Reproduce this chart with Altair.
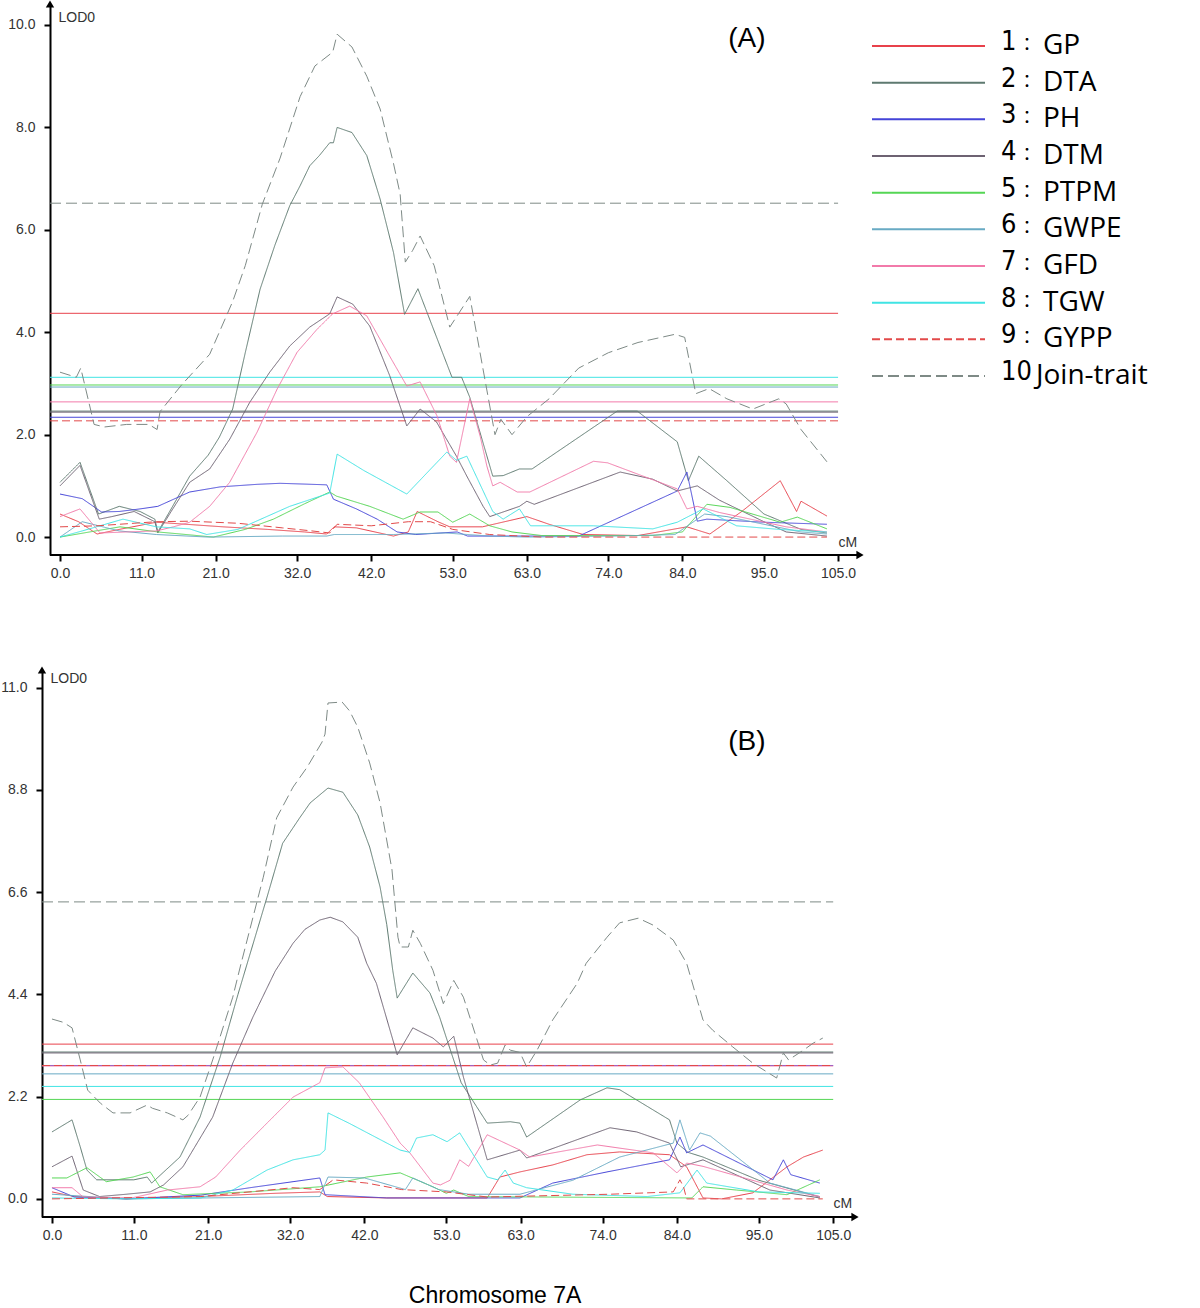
import altair as alt
import pandas as pd

TRAITS = ["GP", "DTA", "PH", "DTM", "PTPM", "GWPE", "GFD", "TGW", "GYPP", "Join-trait"]
COLORS = ["#e8414b", "#5e7a70", "#4444d8", "#6d6272", "#55d655", "#68aac4", "#f27aaa", "#40e4e4", "#e24a4a", "#7e8a86"]
DASHES = [[1, 0]] * 8 + [[8, 4], [11, 5]]
LEG_NUM = ["1", "2", "3", "4", "5", "6", "7", "8", "9", "10"]
LEG_SEP = ["："] * 9 + [""]
X_TICKS = [0, 11, 21, 32, 42, 53, 63, 74, 84, 95, 105]
Y_TICKS_A = [0.0, 2.0, 4.0, 6.0, 8.0, 10.0]
Y_TICKS_B = [0.0, 2.2, 4.4, 6.6, 8.8, 11.0]

# ---------------- Panel A curves (cM, LOD) ----------------
A_GP = [(0, 0.45), (2.5, 0.3), (5, 0.06), (8, 0.15), (13, 0.29), (17, 0.25), (22, 0.2), (28, 0.15), (33, 0.1),
        (36, 0.06), (37, 0.2), (40, 0.18), (45, 0.02), (47, 0.1), (48.2, 0.5), (51, 0.3), (52.6, 0.2), (57, 0.2),
        (63, 0.4), (66, 0.25), (70.6, 0.05), (78, 0.03), (84.6, 0.2), (87.7, 0.06), (92, 0.5), (97.2, 1.1),
        (99.4, 0.5), (100, 0.7), (103.5, 0.41)]
A_DTA = [(0, 1.07), (2.7, 1.46), (5.2, 0.45), (8, 0.6), (10.8, 0.5), (12.8, 0.35), (13.2, 0.1), (15, 0.55),
         (17.5, 1.19), (20, 1.6), (21.5, 1.95), (23.3, 2.5), (25, 3.6), (27, 4.84), (29, 5.7), (31, 6.47),
         (32.4, 6.86), (33.7, 7.25), (35, 7.45), (36.4, 7.7), (36.9, 7.7), (37.4, 8.0), (39.4, 7.9), (41.4, 7.45),
         (43.2, 6.6), (45, 5.56), (46.5, 4.35), (48.3, 4.85), (52.9, 3.12), (54.2, 3.12), (55.3, 2.73),
         (58.4, 1.19), (59.8, 1.2), (62, 1.33), (63.7, 1.33), (75.2, 2.46), (77.9, 2.46), (83.3, 1.86),
         (84.8, 1.1), (86.2, 1.58), (90, 1.1), (95, 0.45), (100, 0.15), (103.5, 0.08)]
A_PH = [(0, 0.84), (3, 0.75), (5.6, 0.49), (8, 0.5), (10.8, 0.55), (13.2, 0.6), (17.5, 0.88), (21.6, 0.98),
        (26.6, 1.03), (29.7, 1.05), (34, 1.03), (36, 1.02), (36.9, 0.74), (40, 0.55), (42.8, 0.35), (45.5, 0.1),
        (48, 0.05), (53.6, 0.1), (55, 0.02), (70, 0.02), (83.3, 0.9), (84.6, 1.27), (86, 0.31), (87.3, 0.35),
        (95, 0.29), (103.5, 0.25)]
A_DTM = [(0, 1.0), (2.7, 1.4), (5.3, 0.35), (7, 0.4), (10, 0.5), (12.8, 0.3), (13.2, 0.08), (15, 0.5),
         (17.5, 1.07), (20.2, 1.33), (22.9, 1.91), (25.6, 2.63), (28.3, 3.22), (31, 3.73), (33.7, 4.1),
         (36.4, 4.36), (37.4, 4.69), (39.5, 4.55), (41.8, 4.12), (44.5, 3.15), (46.8, 2.17), (48.6, 2.5),
         (50.8, 2.25), (53.5, 1.58), (54.9, 1.19), (57.1, 0.6), (58, 0.4), (62, 0.6), (63, 0.7), (64, 0.64),
         (75.6, 1.27), (80, 1.13), (83.3, 0.9), (86, 1.0), (89, 0.72), (95, 0.3), (98, 0.1), (103.5, 0.02)]
A_PTPM = [(0, 0.0), (4, 0.1), (8.1, 0.2), (13.2, 0.1), (17, 0.05), (20.7, 0.0), (25, 0.15), (28.8, 0.35),
          (33, 0.65), (36.4, 0.88), (37.3, 0.8), (41.8, 0.6), (46.3, 0.35), (48.6, 0.49), (51, 0.49),
          (53, 0.29), (55.3, 0.45), (58, 0.22), (61, 0.1), (65, 0.03), (80, 0.03), (84, 0.1), (87.3, 0.64),
          (90.4, 0.58), (97.2, 0.29), (99.5, 0.39), (103.5, 0.16)]
A_GWPE = [(0, 0.0), (3, 0.3), (8, 0.12), (13, 0.05), (20, 0.0), (30, 0.02), (36, 0.02), (37, 0.05), (45, 0.05),
          (52, 0.08), (58, 0.02), (63, 0.0), (75, 0.02), (83, 0.05), (87, 0.45), (90, 0.4), (95, 0.25),
          (100, 0.1), (103.5, 0.06)]
A_GFD = [(0, 0.4), (2.7, 0.55), (5.4, 0.08), (9, 0.1), (13, 0.12), (15.3, 0.2), (17.5, 0.29), (20.2, 0.6),
         (22.9, 1.07), (26.6, 2.05), (29.3, 2.89), (32, 3.61), (34.7, 4.06), (36.8, 4.36), (39.1, 4.51),
         (41.4, 4.32), (44.5, 3.53), (46.8, 2.95), (48.6, 3.03), (50.9, 2.36), (52.6, 1.58), (53.5, 1.46),
         (55.3, 2.7), (56.7, 1.97), (57.6, 1.39), (58.4, 1.0), (59.4, 1.07), (61.7, 0.88), (63.4, 0.88),
         (72, 1.48), (73.9, 1.45), (83.3, 0.94), (84.6, 0.55), (86, 0.6), (89, 0.48), (98, 0.2), (103.5, 0.1)]
A_TGW = [(0, 0.0), (3, 0.12), (8.5, 0.35), (13, 0.2), (17.5, 0.16), (19.8, 0.05), (24, 0.15), (31, 0.6),
         (36.4, 0.86), (37.4, 1.62), (41, 1.3), (46.8, 0.84), (52.2, 1.66), (53.5, 1.5), (54.9, 1.58),
         (58.4, 0.5), (59.8, 0.35), (62, 0.55), (63.5, 0.22), (72, 0.22), (80, 0.16), (83.3, 0.29), (86.8, 0.55),
         (91.3, 0.22), (97, 0.15), (103.5, 0.1)]
A_GYPP = [(0, 0.2), (5, 0.22), (10, 0.27), (13, 0.3), (17.5, 0.31), (24, 0.27), (30, 0.18), (34, 0.12),
          (36.4, 0.08), (37.4, 0.25), (42, 0.22), (47, 0.3), (50, 0.3), (53, 0.15), (58, 0.05), (65, 0.0),
          (103.5, 0.0)]
A_JOIN = [(0, 3.22), (2.2, 3.12), (2.8, 3.3), (4.6, 2.2), (6, 2.15), (9, 2.2), (12, 2.2), (13.1, 2.1),
          (13.5, 2.45), (16.4, 2.97), (20.2, 3.57), (23.3, 4.6), (25, 5.3), (27.3, 6.5), (29.7, 7.4), (32.4, 8.6),
          (34.4, 9.2), (36.8, 9.47), (37.4, 9.82), (39.4, 9.57), (41.4, 9.0), (43.2, 8.36), (45, 7.3), (45.9, 6.7),
          (46.6, 5.37), (47.6, 5.6), (48.6, 5.88), (50.5, 5.3), (52.6, 4.1), (53.5, 4.3), (55.3, 4.7), (58.7, 2.0),
          (59.5, 2.3), (61, 2.0), (63, 2.35), (66, 2.7), (70, 3.3), (74, 3.6), (78, 3.8), (83, 3.96), (84.3, 3.9),
          (85.8, 2.8), (87.6, 2.9), (90, 2.7), (93.5, 2.5), (97, 2.7), (98, 2.6), (100, 2.1), (103.5, 1.47)]
A_THRESH = [4.37, 2.46, 2.34, 2.44, 2.97, 2.93, 2.64, 3.12, 2.27, 6.52]

# ---------------- Panel B curves (cM, LOD) ----------------
B_GP = [(0, 0.15), (3, 0.05), (10, 0.0), (20, 0.05), (30, 0.12), (36, 0.15), (37, 0.05), (45, 0.02), (58.5, 0.02),
        (60.2, 0.47), (62.9, 0.58), (67.3, 0.73), (71.9, 0.95), (76.3, 1.01), (83, 0.95), (85.3, 0.69),
        (87.5, 0.02), (90, 0.0), (94.2, 0.13), (98.8, 0.69), (101, 0.9), (103.6, 1.05)]
B_DTA = [(0, 1.44), (2.7, 1.7), (3.8, 1.12), (4.7, 0.62), (6, 0.41), (9, 0.41), (11, 0.41), (12.8, 0.47),
         (13.4, 0.34), (17.2, 0.9), (19.9, 1.76), (22.6, 3.05), (25, 4.4), (28.9, 6.49), (31, 7.65), (33.3, 8.2),
         (34.7, 8.52), (37.1, 8.84), (39.1, 8.75), (41.1, 8.26), (42.7, 7.57), (44.1, 6.71), (45, 5.9),
         (45.8, 4.92), (46.4, 4.32), (48.5, 4.86), (50.8, 4.43), (52.1, 3.91), (53.1, 3.42), (55, 2.5),
         (58.5, 1.63), (61.6, 1.66), (62.9, 1.63), (63.8, 1.33), (71, 2.13), (74.6, 2.39), (76.3, 2.35),
         (83, 1.7), (84, 1.2), (85.5, 1.0), (87.5, 0.9), (95, 0.4), (103.2, 0.04)]
B_PH = [(0, 0.24), (3, 0.04), (10, 0.0), (20, 0.08), (26.6, 0.24), (32.4, 0.37), (36, 0.45), (36.7, 0.09),
        (45, 0.02), (62.9, 0.02), (67.3, 0.34), (74.6, 0.58), (83, 0.84), (84.4, 1.33), (85.3, 0.99),
        (87.5, 1.16), (96.9, 0.41), (98.3, 0.84), (99.3, 0.52), (103.2, 0.34)]
B_DTM = [(0, 0.69), (2.7, 0.92), (4.2, 0.19), (6.4, 0.05), (10, 0.1), (13.2, 0.15), (15, 0.3), (17.6, 0.69),
         (21.6, 1.76), (24.3, 2.92), (27, 3.91), (30, 4.9), (32.4, 5.5), (34, 5.8), (36, 6.0), (37.4, 6.06),
         (39.1, 5.96), (41.1, 5.63), (42.3, 5.07), (43.6, 4.64), (46.4, 3.1), (48.5, 3.68), (51.2, 3.46),
         (52.6, 3.27), (54, 3.5), (55.3, 2.62), (58.5, 0.84), (62.9, 1.05), (63.8, 0.88), (75, 1.53),
         (78.6, 1.44), (83, 1.2), (84.5, 0.69), (87.5, 0.84), (96.5, 0.19), (103.2, 0.02)]
B_PTPM = [(0, 0.45), (2, 0.45), (4.7, 0.67), (7.3, 0.37), (10.9, 0.47), (13.2, 0.58), (14.5, 0.26), (17.6, 0.09),
          (26.6, 0.15), (36, 0.26), (42.3, 0.47), (46.8, 0.56), (49, 0.41), (51.2, 0.26), (53, 0.12), (54, 0.19),
          (56, 0.05), (86, 0.02), (87.5, 0.26), (92, 0.19), (98.8, 0.09), (103.2, 0.41)]
B_GWPE = [(0, 0.1), (10, 0.0), (36, 0.05), (37.1, 0.47), (42, 0.45), (47.5, 0.2), (48.5, 0.45), (52, 0.2),
          (56, 0.1), (62.9, 0.1), (70, 0.4), (76.3, 0.9), (83.5, 1.2), (84.4, 1.7), (85.7, 1.05), (87.1, 1.42),
          (88.5, 1.35), (96.5, 0.34), (103.2, 0.05)]
B_GFD = [(0, 0.24), (2.7, 0.24), (4.2, 0.04), (8, 0.03), (11, 0.03), (15.5, 0.19), (19.9, 0.26), (22, 0.47),
         (25.3, 1.05), (28.9, 1.63), (32.4, 2.19), (36, 2.5), (36.7, 2.82), (39.1, 2.84), (41.3, 2.5),
         (44.5, 1.76), (46.8, 1.2), (48.1, 0.99), (51.2, 0.34), (52.2, 0.3), (53.5, 0.4), (54.8, 0.84), (56, 0.7),
         (58.5, 1.38), (62.9, 1.05), (64.2, 0.9), (73.3, 1.16), (80.8, 0.99), (84, 0.56), (85.3, 0.77),
         (87.5, 0.7), (98.8, 0.19), (103.2, 0.05)]
B_TGW = [(0, 0.02), (10, 0.0), (20, 0.02), (24.3, 0.19), (28.9, 0.62), (32.4, 0.84), (36, 0.95), (36.7, 1.05),
         (37.1, 1.85), (39.9, 1.63), (46.8, 1.05), (48.1, 1.0), (49, 1.31), (51.2, 1.38), (53.1, 1.23),
         (54.8, 1.42), (58.5, 0.47), (59.9, 0.41), (60.9, 0.62), (62, 0.34), (63.8, 0.24), (70, 0.1), (80, 0.05),
         (84.4, 0.13), (86.7, 0.62), (88, 0.34), (95, 0.15), (103.2, 0.12)]
B_GYPP = [(0, 0.0), (20, 0.05), (32.4, 0.24), (36, 0.2), (37.8, 0.41), (42.3, 0.34), (47, 0.2), (53, 0.15),
          (58.5, 0.04), (75, 0.1), (83.5, 0.15), (84.4, 0.41), (84.9, 0.25), (85.3, 0.0), (103.6, 0.0)]
B_JOIN = [(0, 3.87), (1.5, 3.8), (2.7, 3.68), (3.8, 2.99), (4.8, 2.34), (6.5, 2.06), (8.2, 1.85), (10.5, 1.85),
          (12.8, 2.02), (13.5, 1.95), (15.5, 1.85), (17.6, 1.7), (18.3, 1.8), (19.9, 2.19), (21.6, 2.99),
          (24.3, 4.34), (25.3, 4.99), (28.4, 6.92), (30.2, 8.2), (32.4, 8.86), (34.3, 9.29), (36.3, 9.83),
          (36.7, 10.0), (37.1, 10.67), (39, 10.69), (40, 10.5), (41.1, 10.15), (42.7, 9.38), (44.1, 8.52),
          (45.7, 7.08), (46.5, 5.63), (46.8, 5.42), (47.9, 5.42), (48.5, 5.78), (49.5, 5.5), (51.2, 4.92),
          (52.6, 4.2), (54, 4.7), (55.3, 4.34), (58, 2.99), (58.9, 2.88), (59.9, 2.92), (60.9, 3.31), (61.6, 3.2),
          (62.9, 3.15), (63.8, 2.84), (65.2, 3.2), (67.3, 3.85), (70.6, 4.64), (71.8, 5.07), (74.6, 5.63),
          (76.3, 5.94), (78.8, 6.04), (80.8, 5.89), (83.5, 5.57), (85.3, 5.07), (87.5, 3.85), (88.8, 3.63),
          (91.5, 3.27), (94.2, 2.92), (97.4, 2.6), (98.3, 3.14), (99, 2.99), (101, 3.2), (102.3, 3.35),
          (103.6, 3.46)]
B_THRESH = [3.33, 3.16, 2.87, 3.14, 2.14, 2.69, 2.86, 2.42, 2.87, 6.39]

A_SERIES = [A_GP, A_DTA, A_PH, A_DTM, A_PTPM, A_GWPE, A_GFD, A_TGW, A_GYPP, A_JOIN]
B_SERIES = [B_GP, B_DTA, B_PH, B_DTM, B_PTPM, B_GWPE, B_GFD, B_TGW, B_GYPP, B_JOIN]

# ---------------- geometry ----------------
# Panel A: plot area starts 8 px left of its y axis (axis drawn with a -8 px offset)
W_A, H_A = 818, 551
XDOM_A, YDOM_A = [-2.43, 107.96], [-0.35, 10.41]
AXIS_A, AXOFF_A = -1.35, -8
W_B, H_B = 813, 547
XDOM_B, YDOM_B = [-1.34, 107.93], [-0.39, 11.38]
AXIS_B, AXOFF_B = -1.34, 0

FONT = "Liberation Sans"
color_scale = alt.Scale(domain=TRAITS, range=COLORS)
dash_scale = alt.Scale(domain=TRAITS, range=DASHES)


def panel(series, thresh, xdom, ydom, axis_x, axis_off, yticks, w, h, tag, tag_pos, lod_y, cm_y):
    rows = [{"trait": t, "cM": x, "LOD": y} for t, pts in zip(TRAITS, series) for x, y in pts]
    df = pd.DataFrame(rows)
    th = pd.DataFrame({"trait": TRAITS, "LOD": thresh, "x0": axis_x, "x1": 105.0})
    xs = alt.Scale(domain=xdom, nice=False, zero=False)
    ys = alt.Scale(domain=ydom, nice=False, zero=False)
    xaxis = alt.Axis(values=X_TICKS, format=".1f", title="cM", titleX=w - 22, titleY=cm_y, titleAngle=0,
                     titleAlign="left", titleBaseline="middle", titleFont=FONT, titleFontSize=14,
                     titleFontWeight="normal", titleColor="#333", labelFont=FONT, labelFontSize=14,
                     labelColor="#333", labelPadding=5, tickSize=6, tickWidth=2, tickColor="black",
                     domain=False, grid=False, labelFlush=False)
    yaxis = alt.Axis(values=yticks, format=".1f", title="LOD0", titleX=8, titleY=lod_y, titleAngle=0,
                     titleAlign="left", titleBaseline="middle", titleFont=FONT, titleFontSize=14,
                     titleFontWeight="normal", titleColor="#333", labelFont=FONT, labelFontSize=14,
                     labelColor="#333", labelPadding=9, tickSize=6, tickWidth=2, tickColor="black",
                     domainColor="black", domainWidth=2, grid=False, labelFlush=False, offset=axis_off)
    color = alt.Color("trait:N", scale=color_scale, legend=None)
    dash = alt.StrokeDash("trait:N", scale=dash_scale, legend=None)

    rules = alt.Chart(th).mark_rule(strokeWidth=1).encode(
        x=alt.X("x0:Q", scale=xs, axis=xaxis), x2="x1:Q",
        y=alt.Y("LOD:Q", scale=ys, axis=yaxis), color=color, strokeDash=dash)
    # x axis line: from the y axis to the arrow tip
    xline = alt.Chart(pd.DataFrame({"x0": [axis_x], "x1": [xdom[1]], "y": [ydom[0]]})).mark_rule(
        color="black", strokeWidth=2, clip=False).encode(
        x=alt.X("x0:Q", scale=xs), x2="x1:Q", y=alt.Y("y:Q", scale=ys))
    lines = alt.Chart(df).mark_line(strokeWidth=1, clip=True).encode(
        x=alt.X("cM:Q", scale=xs), y=alt.Y("LOD:Q", scale=ys), color=color, strokeDash=dash,
        order=alt.Order("cM:Q"))
    arrows = alt.Chart(pd.DataFrame({"x": [axis_x, xdom[1]], "y": [ydom[1], ydom[0]],
                                     "shape": ["triangle-up", "triangle-right"]})).mark_point(
        filled=True, color="black", opacity=1, size=70, clip=False).encode(
        x=alt.X("x:Q", scale=xs), y=alt.Y("y:Q", scale=ys),
        shape=alt.Shape("shape:N", scale=None, legend=None))
    tagc = alt.Chart(pd.DataFrame({"x": [tag_pos[0]], "y": [tag_pos[1]], "t": [tag]})).mark_text(
        font=FONT, fontSize=28, color="black", baseline="middle", align="center").encode(
        x=alt.X("x:Q", scale=xs), y=alt.Y("y:Q", scale=ys), text="t:N")
    return alt.layer(rules, xline, lines, arrows, tagc).properties(width=w, height=h)


pA = panel(A_SERIES, A_THRESH, XDOM_A, YDOM_A, AXIS_A, AXOFF_A, Y_TICKS_A, W_A, H_A, "(A)", (92.7, 9.73), 13, -13)
pB = panel(B_SERIES, B_THRESH, XDOM_B, YDOM_B, AXIS_B, AXOFF_B, Y_TICKS_B, W_B, H_B, "(B)", (93.4, 9.83), 8, -14)

# ---------------- legend ----------------
leg = pd.DataFrame({"trait": TRAITS, "idx": list(range(10)), "num": LEG_NUM, "sep": LEG_SEP, "label": TRAITS})
ly = alt.Y("idx:Q", scale=alt.Scale(domain=[0, 9], range=[42, 372]), axis=None)
leg_rule = alt.Chart(leg).mark_rule(strokeWidth=2).encode(
    x=alt.value(8), x2=alt.value(121), y=ly,
    color=alt.Color("trait:N", scale=color_scale, legend=None),
    strokeDash=alt.StrokeDash("trait:N", scale=dash_scale, legend=None))
leg_num = alt.Chart(leg).mark_text(align="left", baseline="middle", fontSize=27, dy=-4,
                                   font="Liberation Sans Narrow, DejaVu Sans Condensed, sans-serif",
                                   color="black").encode(x=alt.value(137), y=ly, text="num:N")
leg_sep = alt.Chart(leg).transform_filter(alt.datum.idx < 9).mark_text(
    align="center", baseline="middle", fontSize=18, font="Noto Sans CJK JP", color="black").encode(
    x=alt.value(163), y=ly, text="sep:N")
leg_lab1 = alt.Chart(leg).transform_filter(alt.datum.idx < 9).mark_text(
    align="left", baseline="middle", fontSize=28, font="Open Sans", color="black").encode(
    x=alt.value(179), y=ly, text="label:N")
leg_lab2 = alt.Chart(leg).transform_filter(alt.datum.idx == 9).mark_text(
    align="left", baseline="middle", fontSize=28, font="Open Sans", color="black").encode(
    x=alt.value(172), y=ly, text="label:N")
legend = alt.layer(leg_rule, leg_num, leg_sep, leg_lab1, leg_lab2).properties(width=320, height=390)

top = alt.hconcat(pA, legend, spacing=0)
chart = alt.vconcat(top, pB, spacing=86).properties(
    title=alt.TitleParams("Chromosome 7A", orient="bottom", anchor="start", dx=408, offset=43,
                          font=FONT, fontSize=23, fontWeight="normal", color="black"),
    padding={"left": 0, "top": 0, "right": 0, "bottom": 0},
).configure_view(stroke=None).configure_concat(spacing=0)

chart.save("out.html", embed_options={"renderer": "svg", "actions": False})
